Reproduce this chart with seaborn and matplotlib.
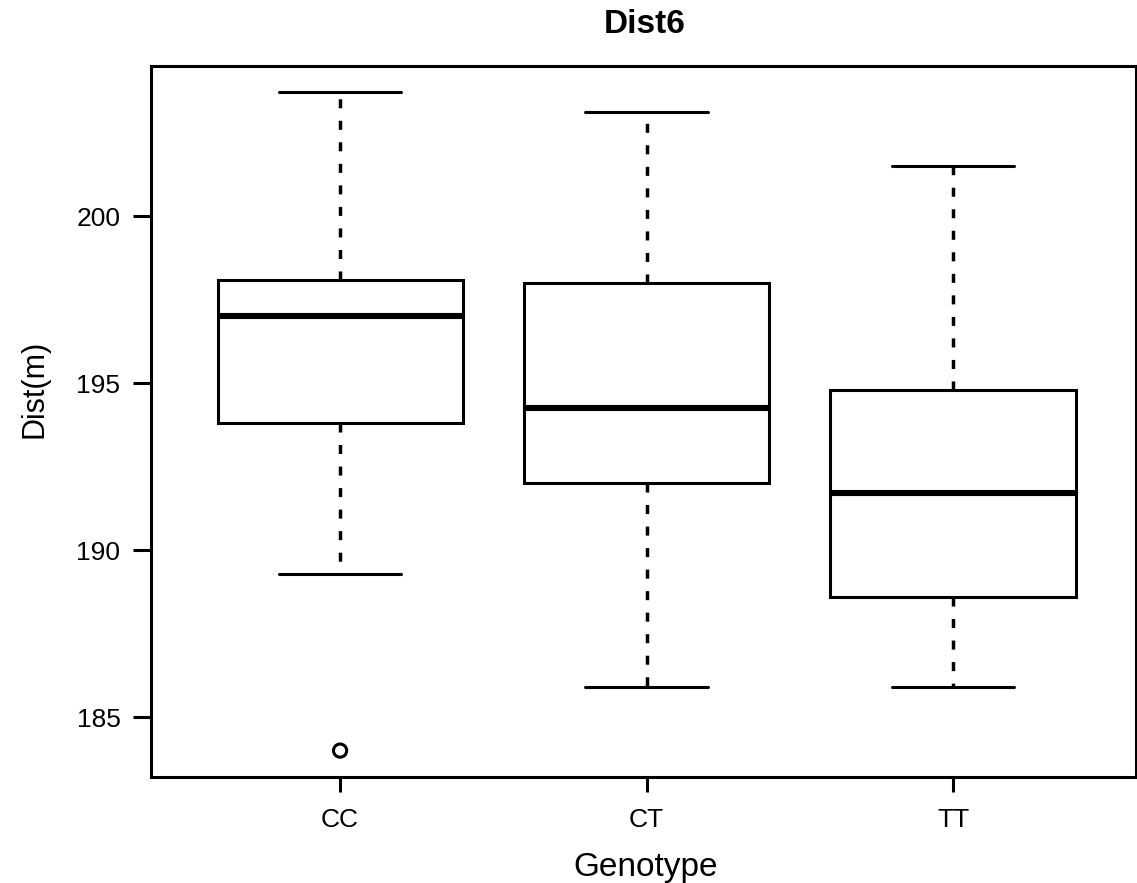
import matplotlib
matplotlib.use("Agg")
import matplotlib.pyplot as plt
import seaborn as sns
import pandas as pd

# ---- data ----
genotypes = ["CC", "CT", "TT"]
lower_whisker = [189.3, 185.9, 185.9]
q1 = [193.8, 192.0, 188.6]
median = [197.0, 194.25, 191.7]
q3 = [198.1, 198.0, 194.8]
upper_whisker = [203.7, 203.1, 201.5]
outlier_genotype = ["CC"]
outlier_value = [184.0]
yticks = [185, 190, 195, 200]
title = "Dist6"
xlabel = "Genotype"
ylabel = "Dist(m)"

rows = []
for g, lo, a, m, b, hi in zip(genotypes, lower_whisker, q1, median, q3, upper_whisker):
    for v in (lo, a, m, b, hi):
        rows.append({"Genotype": g, "Dist": v})
df = pd.DataFrame(rows)
out_df = pd.DataFrame({"Genotype": outlier_genotype, "Dist": outlier_value})

sns.set_style("ticks")
plt.rcParams["font.family"] = ["Liberation Sans", "DejaVu Sans"]
plt.rcParams["text.color"] = "black"
plt.rcParams["axes.labelcolor"] = "black"

fig = plt.figure(figsize=(11.37, 8.83), dpi=100)
ax = fig.add_axes([151 / 1137, 106 / 883, 985 / 1137, 711 / 883])
lw = 2.2

sns.boxplot(
    data=df, x="Genotype", y="Dist", order=genotypes,
    color="white", linecolor="black", linewidth=lw, width=0.8, saturation=1,
    whis=1.5, showfliers=False,
    whiskerprops=dict(linestyle=(0, (2.6, 3.6)), linewidth=2.5),
    medianprops=dict(linewidth=4.4),
    capprops=dict(linewidth=lw),
    ax=ax,
)
sns.stripplot(
    data=out_df, x="Genotype", y="Dist", order=genotypes, jitter=False,
    marker="o", size=9.5, color="black", facecolor="none", edgecolor="black",
    linewidth=2.2, ax=ax,
)

ax.set_xlim(-0.617, 2.597)
ax.set_ylim(183.21, 204.49)
ax.set_yticks(yticks)
ax.set_yticklabels([str(t) for t in yticks])

for s in ax.spines.values():
    s.set_visible(True)
    s.set_linewidth(lw)
    s.set_color("black")

ax.tick_params(axis="both", direction="out", width=lw, colors="black", labelsize=19)
ax.tick_params(axis="y", length=13, pad=9)
ax.tick_params(axis="x", length=11, pad=11)

ax.set_xlabel(xlabel, fontsize=24, color="black")
ax.xaxis.set_label_coords(0.502, -0.105)
ax.set_ylabel(ylabel, fontsize=22, color="black")
ax.yaxis.set_label_coords(-0.1026, 0.546)
ax.text(0.5015, 1.0464, title, transform=ax.transAxes, ha="center",
        va="baseline", fontsize=24, fontweight="bold", color="black")

fig.savefig("out.png", dpi=100)
